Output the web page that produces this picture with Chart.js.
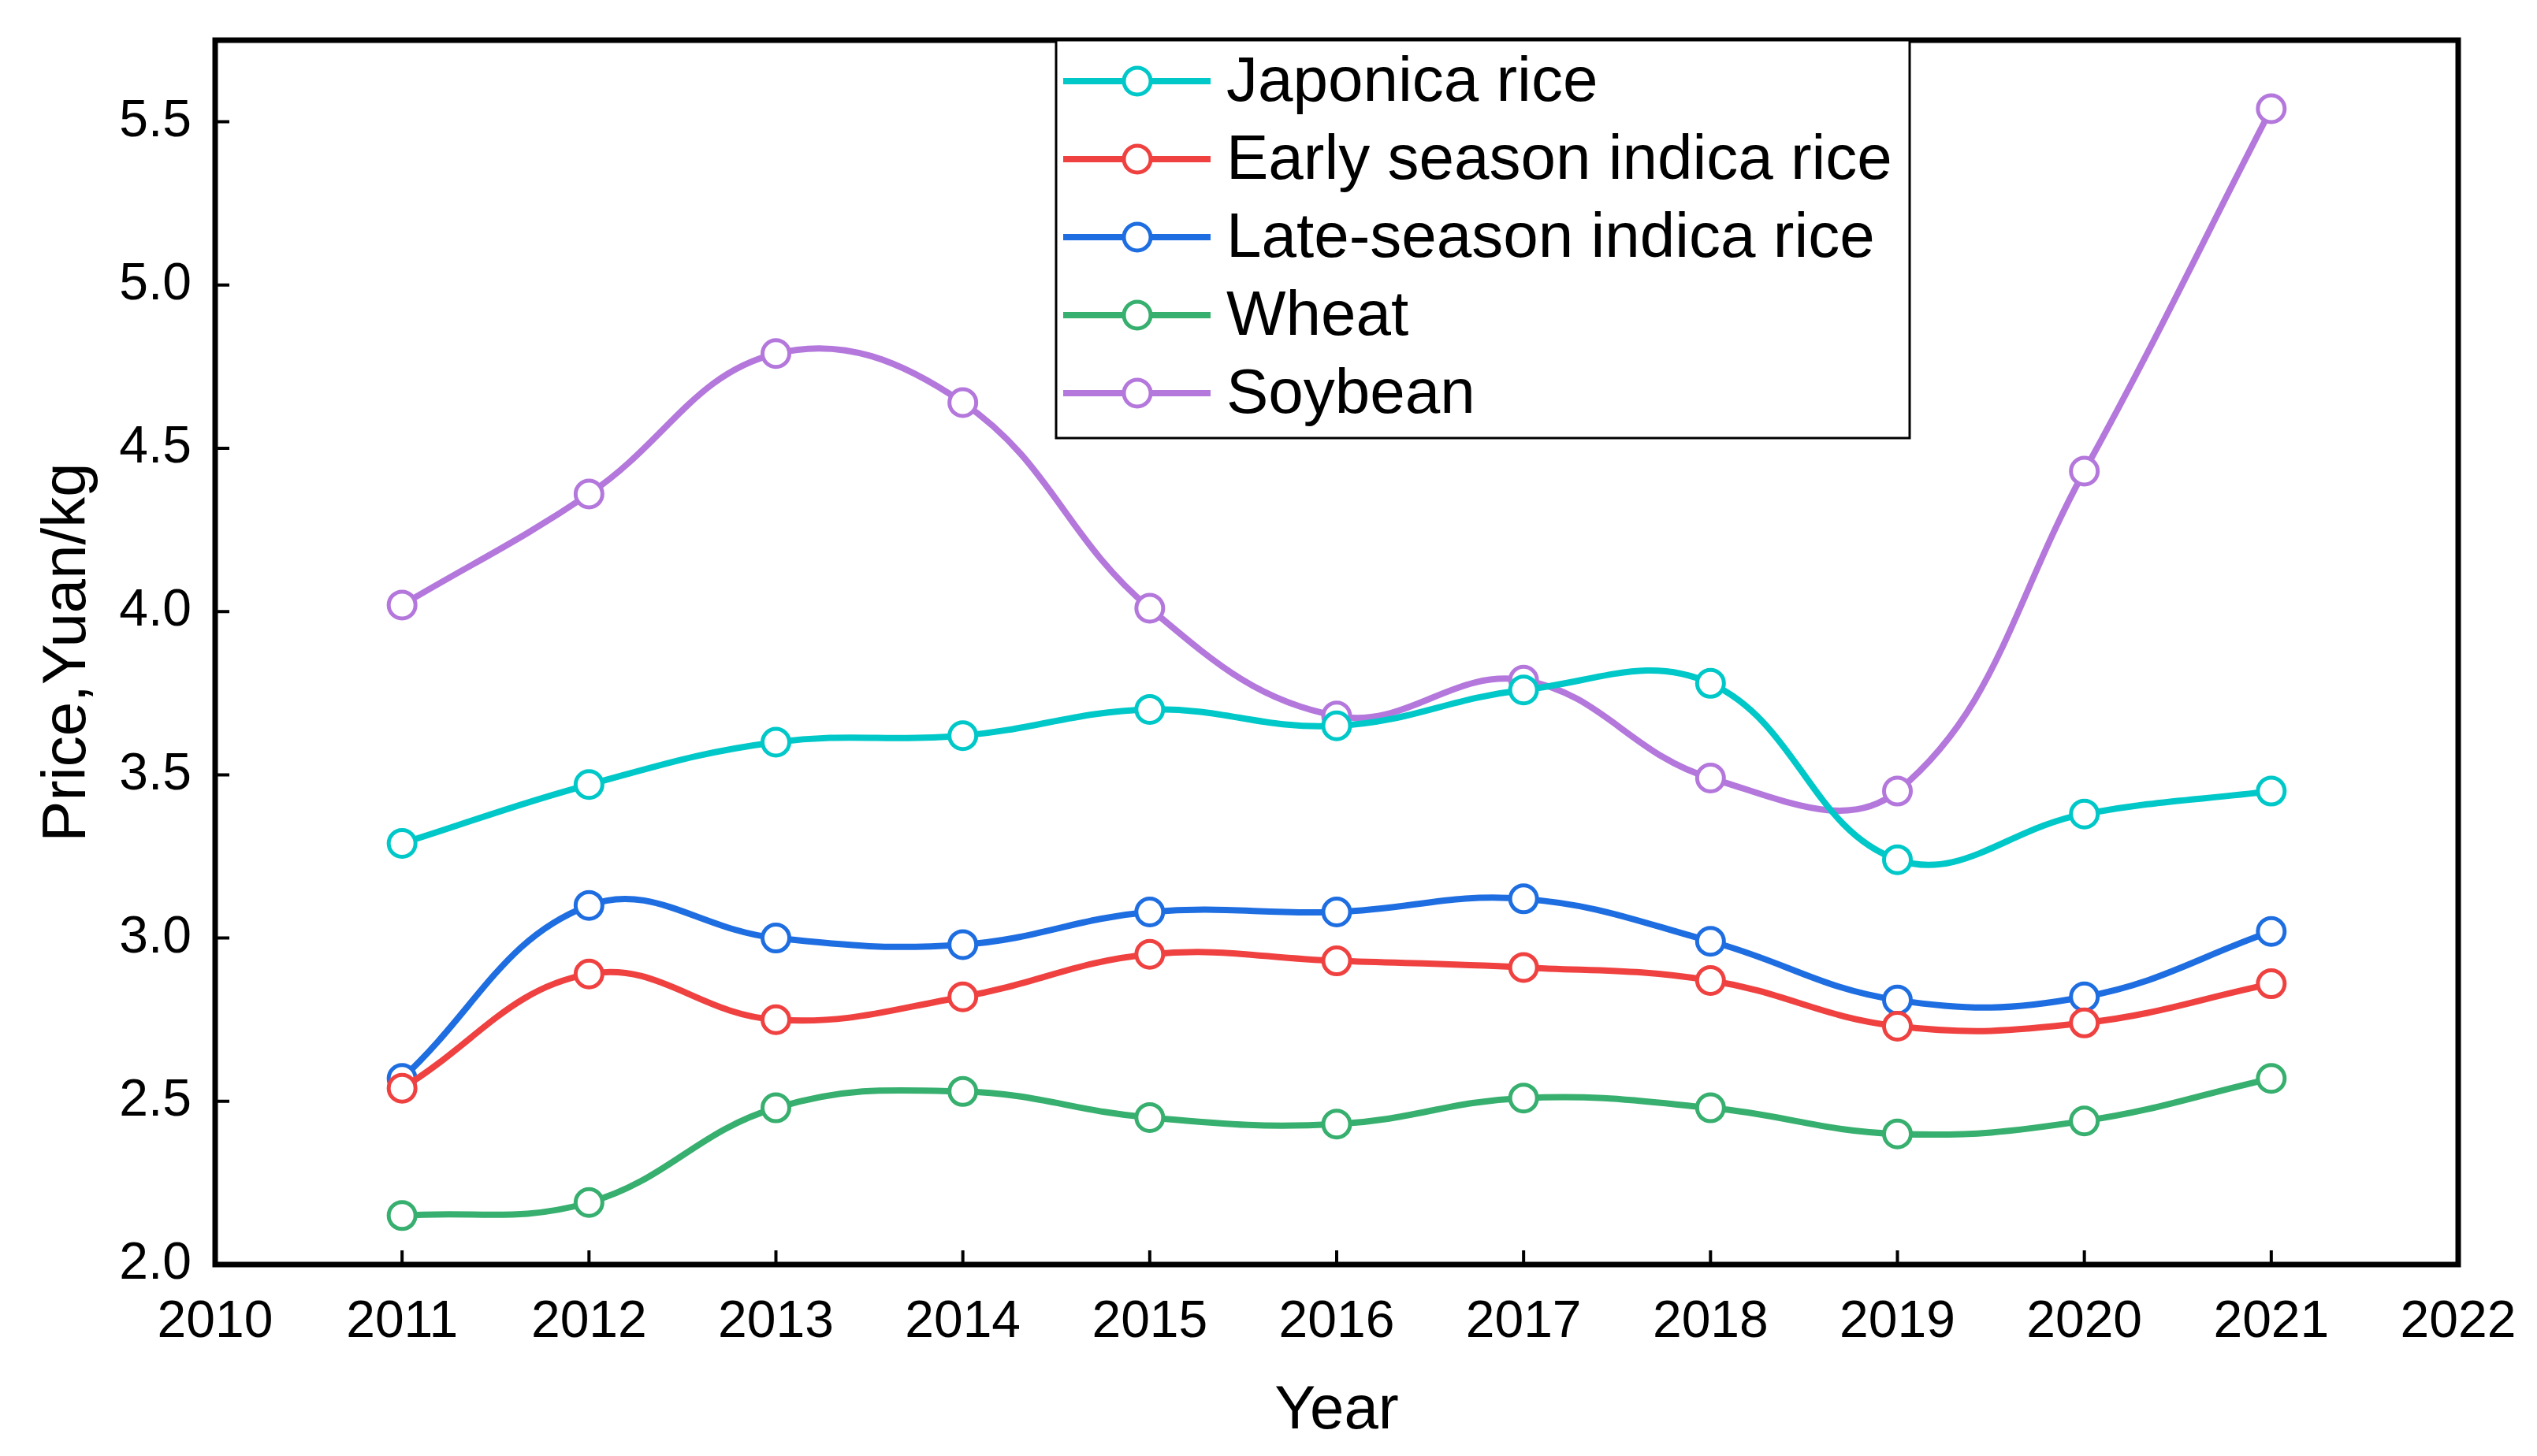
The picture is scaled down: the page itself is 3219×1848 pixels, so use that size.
<!DOCTYPE html>
<html lang="en">

<head>
  <meta charset="UTF-8">
  <title>chart</title>
  <style>
    body { margin: 0; background: #fff; }
  </style>
</head>

<body>
  <div style="width: 3219px; height: 1848px;">
    <canvas id="myChart" width="3219" height="1848"></canvas>
  </div>

  <script src="https://cdn.jsdelivr.net/npm/chart.js"></script>
  <script>
    const years = [2011, 2012, 2013, 2014, 2015, 2016, 2017, 2018, 2019, 2020, 2021]
    const japonica = [3.29, 3.47, 3.60, 3.62, 3.70, 3.65, 3.76, 3.78, 3.24, 3.38, 3.45]
    const earlyIndica = [2.54, 2.89, 2.75, 2.82, 2.95, 2.93, 2.91, 2.87, 2.73, 2.74, 2.86]
    const lateIndica = [2.57, 3.10, 3.00, 2.98, 3.08, 3.08, 3.12, 2.99, 2.81, 2.82, 3.02]
    const wheat = [2.15, 2.19, 2.48, 2.53, 2.45, 2.43, 2.51, 2.48, 2.40, 2.44, 2.57]
    const soybean = [4.02, 4.36, 4.79, 4.64, 4.01, 3.68, 3.79, 3.49, 3.45, 4.43, 5.54]
    const seriesNames = ['Japonica rice', 'Early season indica rice', 'Late-season indica rice', 'Wheat', 'Soybean']
    const seriesColors = ['rgb(0,200,200)', 'rgb(240,65,65)', 'rgb(30,110,225)', 'rgb(55,175,110)', 'rgb(180,120,220)']

    const FONT = 'Liberation Sans, Arial, sans-serif'

    const toPoints = (vals) => vals.map((v, i) => ({ x: years[i], y: v }))

    const makeSet = (idx, vals) => ({
      label: seriesNames[idx],
      data: toPoints(vals),
      borderColor: seriesColors[idx],
      backgroundColor: '#fff',
      pointBackgroundColor: '#fff',
      pointBorderColor: seriesColors[idx],
      borderWidth: 8,
      pointRadius: 17,
      pointBorderWidth: 5,
      tension: 0.4,
      clip: false
    })

    // frame, inward ticks and the boxed legend
    const framePlugin = {
      id: 'frame',
      afterDraw(chart) {
        const c = chart.ctx
        const a = chart.chartArea
        const xs = chart.scales.x
        const ys = chart.scales.y
        c.save()
        c.strokeStyle = '#000'
        c.lineWidth = 4
        c.beginPath()
        xs.ticks.forEach(t => {
          const px = xs.getPixelForValue(t.value)
          c.moveTo(px, a.bottom)
          c.lineTo(px, a.bottom - 18)
        })
        ys.ticks.forEach(t => {
          const py = ys.getPixelForValue(t.value)
          c.moveTo(a.left, py)
          c.lineTo(a.left + 18, py)
        })
        c.stroke()
        c.lineWidth = 7
        c.strokeRect(a.left, a.top, a.right - a.left, a.bottom - a.top)

        // legend
        const bx = 1340, by = a.top, bw = 1083, bh = 505
        c.fillStyle = '#fff'
        c.fillRect(bx, by, bw, bh)
        c.lineWidth = 3
        c.strokeRect(bx, by, bw, bh)
        c.font = '80px ' + FONT
        c.textBaseline = 'middle'
        chart.data.datasets.forEach((ds, i) => {
          const ry = by + 52 + i * 99
          c.strokeStyle = ds.borderColor
          c.lineWidth = 8
          c.beginPath()
          c.moveTo(bx + 9, ry)
          c.lineTo(bx + 196, ry)
          c.stroke()
          c.beginPath()
          c.arc(bx + 103, ry, 17, 0, Math.PI * 2)
          c.fillStyle = '#fff'
          c.fill()
          c.lineWidth = 5
          c.stroke()
          c.fillStyle = '#000'
          c.fillText(ds.label, bx + 216, ry + 3)
        })
        c.restore()
      }
    }

    const ctx = document.getElementById('myChart');
    new Chart(ctx, {
      type: 'line',
      data: {
        datasets: [
          makeSet(0, japonica),
          makeSet(1, earlyIndica),
          makeSet(2, lateIndica),
          makeSet(3, wheat),
          makeSet(4, soybean)
        ]
      },
      options: {
        responsive: false,
        animation: false,
        devicePixelRatio: 1,
        layout: { padding: { top: 51, right: 100, left: 0, bottom: 0 } },
        plugins: {
          legend: { display: false },
          tooltip: { enabled: false }
        },
        scales: {
          x: {
            type: 'linear',
            min: 2010,
            max: 2022,
            grid: { display: false, drawTicks: false },
            border: { display: false },
            ticks: {
              stepSize: 1,
              padding: 34,
              color: '#000',
              font: { family: FONT, size: 66 },
              callback: v => String(v)
            },
            title: {
              display: true,
              text: 'Year',
              color: '#000',
              font: { family: FONT, size: 78 },
              padding: { top: 0, bottom: 10 }
            },
            afterFit: s => {
              s.height = 243
              s.paddingLeft = 0
              s.paddingRight = 0
            }
          },
          y: {
            min: 2.0,
            max: 5.75,
            grid: { display: false, drawTicks: false },
            border: { display: false },
            ticks: {
              stepSize: 0.5,
              includeBounds: false,
              padding: 30,
              color: '#000',
              font: { family: FONT, size: 66 },
              callback: v => v.toFixed(1)
            },
            title: {
              display: true,
              text: 'Price,Yuan/kg',
              color: '#000',
              font: { family: FONT, size: 78 },
              padding: { top: 40, bottom: 0 }
            },
            afterFit: s => {
              s.width = 273
              s.paddingTop = 0
              s.paddingBottom = 0
            }
          }
        }
      },
      plugins: [framePlugin]
    });

  </script>
</body>

</html>
